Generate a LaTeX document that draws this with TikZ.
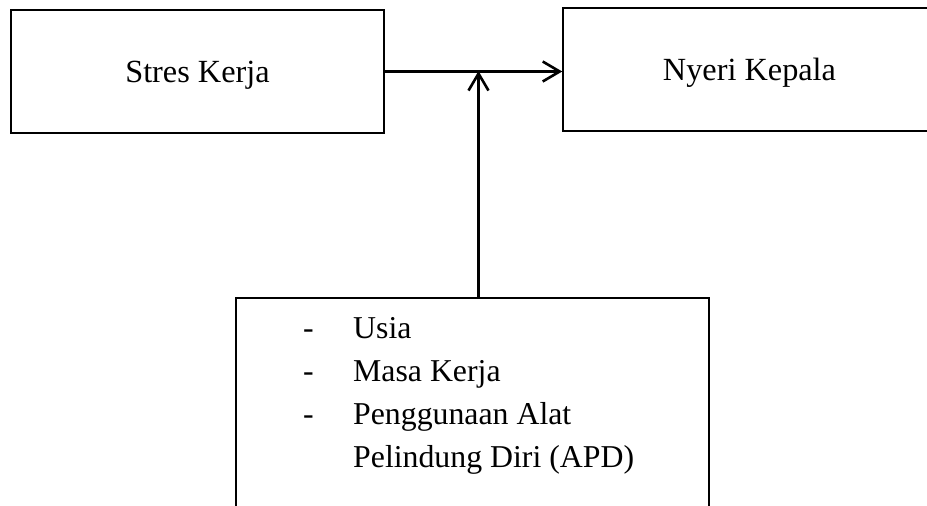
\documentclass[tikz,border=0pt]{standalone}
\usepackage{fontspec}
\setmainfont{Liberation Serif}
\usetikzlibrary{arrows.meta}

\begin{document}
\begin{tikzpicture}[
    x=1pt, y=-1pt,
    kotak/.style={rectangle, draw, line width=1.5pt, inner sep=0pt, text centered, minimum width=373pt, minimum height=123pt, text depth=0pt, font=\fontsize{32.3}{38}\selectfont},
    faktorbox/.style={rectangle, draw, line width=1.5pt, inner sep=0pt, minimum width=473pt, minimum height=242pt},
    panah/.style={-{Straight Barb[length=17pt, width=20pt, line width=2.6pt]}, line width=2.6pt}
]
\useasboundingbox (0,0) rectangle (927,506);

% Boxes
\node[kotak] (sk) at (197.5, 71.5) {Stres Kerja};
\node[kotak] (nk) at (749.5, 69.5) {Nyeri Kepala};
\node[faktorbox] (faktor) at (472.5, 419) {};

% List of factors
\node[anchor=base west, inner sep=0pt, font=\fontsize{31.8}{43}\selectfont] (daftar) at (303, 338) {%
    \begin{tabular}[t]{@{}p{50pt}@{}l@{}}
    - & Usia\\
    - & Masa Kerja\\
    - & Penggunaan Alat\\
      & Pelindung Diri (APD)
    \end{tabular}};

% Arrows
\coordinate (temu) at (478.5, 71);
\draw[panah] (sk.east) -- (sk.east -| nk.west);
\draw[panah] (temu |- faktor.north) -- (temu);

\end{tikzpicture}
\end{document}
